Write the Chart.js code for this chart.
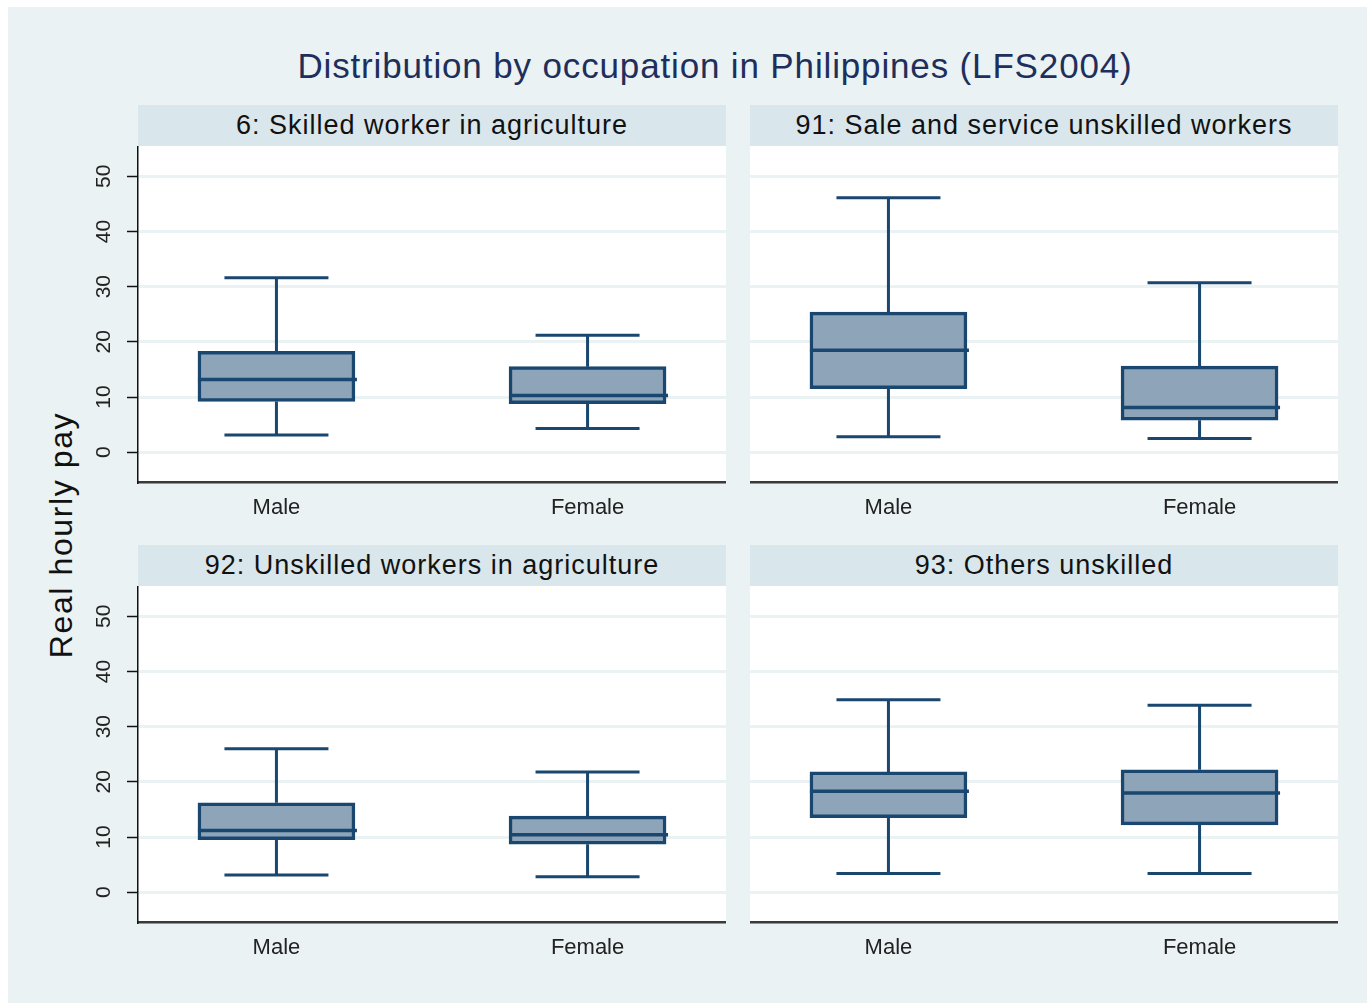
<!DOCTYPE html>
<html>
<head>
<meta charset="utf-8">
<script src="https://cdn.jsdelivr.net/npm/chart.js@4.4.1/dist/chart.umd.min.js"></script>
<style>
  body { margin: 0; background: #fff; font-family: "Liberation Sans", Arial, sans-serif; }
  #bg { position: absolute; left: 8px; top: 7px; width: 1359px; height: 996px; background: #eaf2f3; }
  .title { position: absolute; left: 215px; width: 1000px; top: 46px; font-size: 35px; line-height: 40px;
           color: #1e2f5b; text-align: center; letter-spacing: 0.85px; white-space: nowrap; }
  .strip { position: absolute; width: 588px; height: 41px; line-height: 40px; background: #d9e6eb;
           font-size: 27px; text-align: center; color: #111; letter-spacing: 1px; white-space: nowrap; }
  .ytitle { position: absolute; left: -139px; top: 515px; width: 400px; height: 40px; line-height: 40px;
            font-size: 32px; text-align: center; color: #111; letter-spacing: 1.6px;
            transform: rotate(-90deg); white-space: nowrap; }
  canvas { position: absolute; }
</style>
</head>
<body>
<div id="bg"></div>
<div class="title">Distribution by occupation in Philippines (LFS2004)</div>
<div class="ytitle">Real hourly pay</div>
<div class="strip" id="s0" style="left:138px; top:105px;"></div>
<div class="strip" id="s1" style="left:750px; top:105px;"></div>
<div class="strip" id="s2" style="left:138px; top:545px;"></div>
<div class="strip" id="s3" style="left:750px; top:545px;"></div>
<canvas id="c0" width="646" height="376" style="left:80px; top:146px;"></canvas>
<canvas id="c1" width="588" height="376" style="left:750px; top:146px;"></canvas>
<canvas id="c2" width="646" height="376" style="left:80px; top:586px;"></canvas>
<canvas id="c3" width="588" height="376" style="left:750px; top:586px;"></canvas>
<script>
// Real hourly pay by sex, one row per occupation panel: [Male, Female]
const categories = ["Male", "Female"];
const panelTitles = [
  "6: Skilled worker in agriculture",
  "91: Sale and service unskilled workers",
  "92: Unskilled workers in agriculture",
  "93: Others unskilled"
];
const lowerWhisker = [[3.1, 4.3], [2.8, 2.5], [3.1, 2.8], [3.4, 3.4]];
const q1 = [[9.2, 8.8], [11.5, 5.8], [9.5, 8.7], [13.5, 12.2]];
const median = [[13.2, 10.3], [18.5, 8.1], [11.2, 10.4], [18.3, 18.0]];
const q3 = [[18.3, 15.5], [25.4, 15.6], [16.2, 13.8], [21.8, 22.2]];
const upperWhisker = [[31.6, 21.2], [46.1, 30.7], [26.0, 21.8], [34.9, 33.9]];
const yTicks = [0, 10, 20, 30, 40, 50];

const navy = "#1a476f";
const fill = "#8ea4b8";

// white plot region
const plotBg = {
  id: "plotBg",
  beforeDraw(chart) {
    const a = chart.chartArea, ctx = chart.ctx;
    ctx.save();
    ctx.fillStyle = "#ffffff";
    ctx.fillRect(a.left, a.top, a.right - a.left, a.bottom - a.top);
    ctx.restore();
  }
};

// whiskers + median line
const boxWhiskers = {
  id: "boxWhiskers",
  beforeDatasetsDraw(chart) {
    const p = chart.options.plugins.boxWhiskers.panel;
    const y = chart.scales.y, ctx = chart.ctx;
    const meta = chart.getDatasetMeta(0);
    ctx.save();
    ctx.strokeStyle = navy;
    ctx.lineWidth = 3;
    meta.data.forEach((el, i) => {
      const x = el.x;
      const half = 52;
      const lo = y.getPixelForValue(lowerWhisker[p][i]);
      const hi = y.getPixelForValue(upperWhisker[p][i]);
      ctx.beginPath();
      ctx.moveTo(x, y.getPixelForValue(q1[p][i]));
      ctx.lineTo(x, lo);
      ctx.moveTo(x - half, lo);
      ctx.lineTo(x + half, lo);
      ctx.moveTo(x, y.getPixelForValue(q3[p][i]));
      ctx.lineTo(x, hi);
      ctx.moveTo(x - half, hi);
      ctx.lineTo(x + half, hi);
      ctx.stroke();
    });
    ctx.restore();
  },
  afterDatasetsDraw(chart) {
    const p = chart.options.plugins.boxWhiskers.panel;
    const y = chart.scales.y, ctx = chart.ctx;
    const meta = chart.getDatasetMeta(0);
    ctx.save();
    ctx.strokeStyle = navy;
    ctx.lineWidth = 3.5;
    meta.data.forEach((el, i) => {
      const m = y.getPixelForValue(median[p][i]);
      ctx.beginPath();
      ctx.moveTo(el.x - el.width / 2, m);
      ctx.lineTo(el.x + el.width / 2 + 2, m);
      ctx.stroke();
    });
    ctx.restore();
  }
};

function makePanel(p, showY) {
  document.getElementById("s" + p).textContent = panelTitles[p];
  const ctx = document.getElementById("c" + p);
  new Chart(ctx, {
    type: "bar",
    data: {
      datasets: [{
        data: categories.map((c, i) => ({ x: i + 1, y: [q1[p][i], q3[p][i]] })),
        backgroundColor: fill,
        borderColor: navy,
        borderWidth: 3.5,
        borderSkipped: false,
        barThickness: 157
      }]
    },
    options: {
      responsive: false,
      animation: false,
      layout: { padding: 0 },
      plugins: {
        legend: { display: false },
        tooltip: { enabled: false },
        boxWhiskers: { panel: p }
      },
      scales: {
        x: {
          type: "linear",
          min: 0.555,
          max: 2.445,
          offset: false,
          afterBuildTicks(scale) {
            scale.ticks = categories.map((c, i) => ({ value: i + 1 }));
          },
          afterFit(scale) {
            scale.height = 40;
            scale.paddingLeft = 0;
            scale.paddingRight = 0;
          },
          grid: { display: false, drawTicks: false },
          border: { display: true, color: "#3a3a3a", width: 2.5 },
          ticks: {
            padding: 13,
            color: "#222",
            font: { family: "Liberation Sans, Arial", size: 22 },
            callback: (v, i) => categories[i]
          }
        },
        y: {
          min: -5.4,
          max: 55.5,
          afterBuildTicks(scale) {
            scale.ticks = yTicks.map(v => ({ value: v }));
          },
          afterFit(scale) {
            scale.width = showY ? 58 : 0;
            scale.paddingTop = 0;
            scale.paddingBottom = 0;
          },
          grid: {
            color: "#eaf2f3",
            lineWidth: 3,
            drawTicks: showY,
            tickLength: 11,
            tickColor: "#111",
            tickWidth: 1.5
          },
          border: { display: showY, color: "#111", width: 1.5 },
          ticks: {
            display: showY,
            minRotation: 90,
            maxRotation: 90,
            crossAlign: "center",
            padding: 11,
            color: "#222",
            font: { family: "Liberation Sans, Arial", size: 21 }
          }
        }
      }
    },
    plugins: [plotBg, boxWhiskers]
  });
}

makePanel(0, true);
makePanel(1, false);
makePanel(2, true);
makePanel(3, false);
</script>
</body>
</html>
